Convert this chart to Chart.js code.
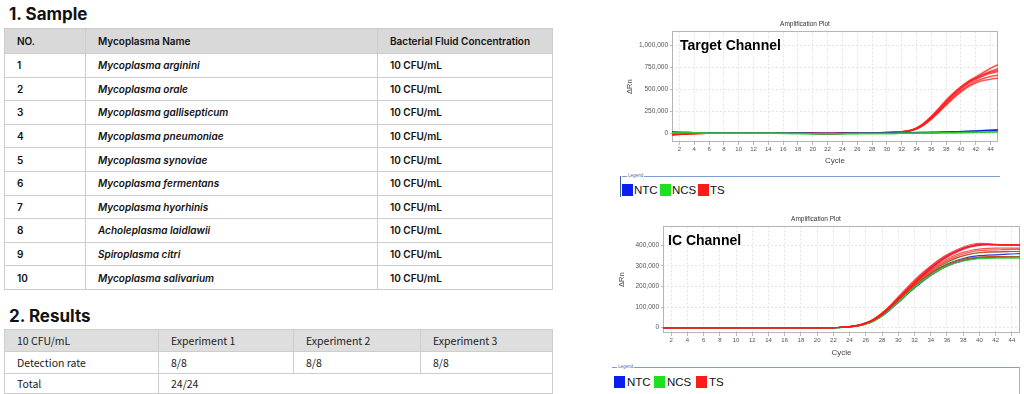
<!DOCTYPE html>
<html><head><meta charset="utf-8">
<script src="https://cdn.jsdelivr.net/npm/chart.js@4.4.1/dist/chart.umd.min.js"></script>
<style>
body{margin:0;width:1024px;height:394px;position:relative;overflow:hidden;background:#fff;}
.abs{position:absolute;}
.hd{position:absolute;margin:0;font-family:Inter,'Liberation Sans',sans-serif;font-weight:700;font-size:17px;color:#111;line-height:20px;}
table{position:absolute;border-collapse:collapse;table-layout:fixed;}
#t1{left:4px;top:28px;width:548px;font-family:Inter,sans-serif;font-weight:600;font-size:10px;color:#111;}
#t1 td{border:1px solid #cdcdcd;padding:0 0 0 12px;white-space:nowrap;overflow:hidden;}
#t1 tr.h td{background:#d9d9d9;height:24px;}
#t1 tr.r td{height:22.6px;}
#t1 td.it{font-style:italic;}
#t2{left:4px;top:329px;width:548px;font-family:'Noto Sans CJK KR','Noto Sans',sans-serif;font-size:10.5px;color:#222;}
#t2 td{border:1px solid #cdcdcd;padding:0 0 0 12px;white-space:nowrap;}
#t2 tr.h td{background:#dedede;}
.lg{position:absolute;font-family:'Liberation Sans',Arial,sans-serif;font-size:11.5px;color:#111;line-height:14px;}
.sw{position:absolute;}
.ch{position:absolute;font-family:'Liberation Sans',Arial,sans-serif;font-weight:700;font-size:14px;color:#000;line-height:16px;}
</style></head>
<body>
<div class="hd" style="left:9px;top:4px;">1. Sample</div>
<table id="t1"><colgroup><col style="width:81px"><col style="width:292px"><col style="width:175px"></colgroup><tbody id="t1b"></tbody></table>
<div class="hd" style="left:9px;top:306px;">2. Results</div>
<table id="t2"><colgroup><col style="width:154px"><col style="width:135px"><col style="width:127px"><col style="width:132px"></colgroup><tbody id="t2b"></tbody></table>

<canvas id="c1" class="abs" width="392" height="156" style="left:612px;top:14px;"></canvas>
<div class="ch" style="left:680px;top:37px;">Target Channel</div>
<div id="lg1"></div>

<canvas id="c2" class="abs" width="412" height="152" style="left:612px;top:208px;"></canvas>
<div class="ch" style="left:668px;top:232px;">IC Channel</div>
<div id="lg2"></div>

<script>
// ---------- table data ----------
const sampleHeaders = ['NO.', 'Mycoplasma Name', 'Bacterial Fluid Concentration'];
const sampleNo = ['1','2','3','4','5','6','7','8','9','10'];
const sampleNames = ['Mycoplasma arginini','Mycoplasma orale','Mycoplasma gallisepticum','Mycoplasma pneumoniae','Mycoplasma synoviae','Mycoplasma fermentans','Mycoplasma hyorhinis','Acholeplasma laidlawii','Spiroplasma citri','Mycoplasma salivarium'];
const sampleConc = ['10 CFU/mL','10 CFU/mL','10 CFU/mL','10 CFU/mL','10 CFU/mL','10 CFU/mL','10 CFU/mL','10 CFU/mL','10 CFU/mL','10 CFU/mL'];
const resultHeaders = ['10 CFU/mL','Experiment 1','Experiment 2','Experiment 3'];
const detectionRate = ['8/8','8/8','8/8'];
const totalRate = '24/24';

// ---------- chart data ----------
const cycles = [1,2,3,4,5,6,7,8,9,10,11,12,13,14,15,16,17,18,19,20,21,22,23,24,25,26,27,28,29,30,31,32,33,34,35,36,37,38,39,40,41,42,43,44,45];
const cycleTicks = [2,4,6,8,10,12,14,16,18,20,22,24,26,28,30,32,34,36,38,40,42,44];
const targetYTicks = [0,250000,500000,750000,1000000];
const icYTicks = [0,100000,200000,300000,400000];
const legendNames = ['NTC','NCS','TS'];

// Target channel (ΔRn, thousands)
const tgtTS1 = [-18,-12,-7,-4,-2,-1,0,0,0,0, 0,0,0,1,2,3,4,5,3,-1, -3,-3,-2,-1,0,1,2,3,5,8, 12,18,30,60,115,192,282,378,460,532, 594,642,692,740,782];
const tgtTS2 = [-14,-10,-6,-3,-1,0,0,0,0,0, 0,0,1,1,2,3,3,4,2,-1, -2,-3,-2,-1,0,1,2,3,4,7, 10,16,28,56,108,182,268,358,442,518, 580,628,670,706,736];
const tgtTS3 = [-20,-14,-8,-4,-2,-1,0,0,0,0, 0,0,0,1,1,2,3,4,3,0, -2,-3,-3,-1,0,1,2,3,5,8, 11,17,29,58,112,186,272,362,446,520, 582,626,665,695,716];
const tgtTS4 = [-10,-7,-4,-2,-1,0,0,0,0,0, 0,1,1,2,2,3,4,4,2,-1, -2,-2,-2,-1,0,1,1,2,4,6, 9,15,26,52,102,172,256,345,430,505, 568,615,652,682,702];
const tgtTS5 = [-16,-11,-6,-3,-1,0,0,0,0,0, 0,0,1,1,2,2,3,4,2,-1, -2,-3,-2,-1,0,1,2,3,4,7, 10,14,25,50,98,166,246,330,412,486, 546,592,624,646,662];
const tgtTS6 = [-12,-8,-5,-2,-1,0,0,0,0,0, 0,0,0,1,2,3,3,4,3,0, -2,-2,-2,-1,0,0,1,2,4,6, 9,13,24,48,95,160,238,320,400,470, 530,572,600,616,626];
const tgtNTC1 = [14,11,8,5,3,2,1,1,0,0, 0,0,0,0,0,0,0,-1,-1,-2, -2,-2,-2,-1,0,0,1,1,2,3, 4,5,6,7,8,10,12,14,16,19, 22,26,30,35,40];
const tgtNTC2 = [10,9,7,5,3,2,1,0,0,0, 0,0,0,0,0,0,0,0,-1,-2, -2,-3,-2,-2,-1,0,0,1,1,2, 3,4,5,6,7,8,10,12,14,17, 20,23,27,31,35];
const tgtNCS1 = [4,6,7,5,3,1,0,0,0,0, 0,0,0,0,-1,-2,-3,-4,-5,-6, -6,-6,-6,-5,-5,-5,-4,-4,-3,-3, -2,-1,0,1,2,3,4,5,6,8, 9,11,13,16,19];
const tgtNCS2 = [2,4,5,4,2,1,0,0,0,0, 0,0,0,0,-1,-1,-2,-3,-4,-5, -5,-5,-5,-5,-4,-4,-4,-3,-3,-2, -2,-1,0,0,1,2,3,4,5,6, 8,9,11,13,15];

// IC channel (ΔRn, thousands)
const icTS1 = [0,0,0,0,0,0,0,0,0,0, 0,0,0,0,0,0,0,0,0,0, 0,0.5,2,5,11,22,40,68,102,142, 182,222,258,292,322,348,368,386,398,406, 406,404,403,402,402];
const icTS2 = [0,0,0,0,0,0,0,0,0,0, 0,0,0,0,0,0,0,0,0,0, 0,0.5,2,5,11,23,42,70,105,146, 186,226,262,296,326,350,370,386,396,402, 403,402,402,402,402];
const icTS3 = [0,0,0,0,0,0,0,0,0,0, 0,0,0,0,0,0,0,0,0,0, 0,0.5,2,6,12,24,43,72,108,150, 192,232,268,300,330,355,375,392,404,410, 408,405,403,402,402];
const icTS4 = [0,0,0,0,0,0,0,0,0,0, 0,0,0,0,0,0,0,0,0,0, 0,0.5,2,5,11,22,40,67,100,139, 178,216,250,282,310,334,352,366,376,382, 385,386,386,386,386];
const icTS5 = [0,0,0,0,0,0,0,0,0,0, 0,0,0,0,0,0,0,0,0,0, 0,0.5,2,5,11,22,40,67,101,140, 178,215,248,278,304,326,344,358,368,374, 377,378,379,380,380];
const icTS6 = [0,0,0,0,0,0,0,0,0,0, 0,0,0,0,0,0,0,0,0,0, 0,0.5,2,5,10,21,38,65,98,136, 174,210,243,272,298,320,337,350,359,364, 367,368,369,370,370];
const icTS7 = [0,0,0,0,0,0,0,0,0,0, 0,0,0,0,0,0,0,0,0,0, 0,0.5,2,5,10,21,38,64,97,134, 170,205,236,263,287,306,321,332,339,343, 345,345,345,344,344];
const icTS8 = [0,0,0,0,0,0,0,0,0,0, 0,0,0,0,0,0,0,0,0,0, 0,0.5,2,5,10,20,37,63,97,136, 176,216,252,286,316,342,362,380,392,400, 403,403,402,402,402];
const icNTC1 = [0,0,0,0,0,0,0,0,0,0, 0,0,0,0,0,0,0,0,0,0, 0,0.5,2,5,11,22,40,67,101,140, 180,219,255,289,319,345,366,384,396,403, 404,403,402,402,402];
const icNTC2 = [0,0,0,0,0,0,0,0,0,0, 0,0,0,0,0,0,0,0,0,0, 0,0.3,1.5,4,9,18,34,58,90,126, 163,198,232,262,288,308,324,336,345,350, 352,354,356,358,360];
const icNTC3 = [0,0,0,0,0,0,0,0,0,0, 0,0,0,0,0,0,0,0,0,0, 0,0.3,1.5,4,9,18,33,56,87,122, 158,192,224,253,278,298,314,326,334,339, 341,342,343,344,345];
const icNCS1 = [0,0,0,0,0,0,0,0,0,0, 0,0,0,0,0,0,0,0,0,0, 0,0.3,1.5,4,9,19,35,60,93,130, 168,204,238,268,294,316,334,348,358,364, 367,368,369,370,370];
const icNCS2 = [0,0,0,0,0,0,0,0,0,0, 0,0,0,0,0,0,0,0,0,0, 0,0.3,1.5,4,9,18,34,58,90,127, 164,199,231,260,285,305,320,331,338,342, 344,345,345,345,345];
const icNCS3 = [0,0,0,0,0,0,0,0,0,0, 0,0,0,0,0,0,0,0,0,0, 0,0.3,1.5,4,9,18,33,57,88,124, 160,194,226,254,278,298,313,324,331,335, 337,338,338,338,338];

// ---------- colours ----------
const COL = {NTC:'#0a1ef0', NCS:'#1ee01e', TS:'#ff1a1a'};
const LINE = {NTC:'rgba(25,35,215,0.9)', NCS:'rgba(40,205,40,0.9)', TS:'rgba(255,25,25,0.75)'};

// ---------- tables ----------
(function(){
  const b1 = document.getElementById('t1b');
  let h = '<tr class="h">' + sampleHeaders.map(t=>'<td>'+t+'</td>').join('') + '</tr>';
  for (let i=0;i<sampleNo.length;i++) {
    h += '<tr class="r"><td>'+sampleNo[i]+'</td><td class="it">'+sampleNames[i]+'</td><td>'+sampleConc[i]+'</td></tr>';
  }
  b1.innerHTML = h;
  const b2 = document.getElementById('t2b');
  let g = '<tr class="h" style="height:22px">' + resultHeaders.map(t=>'<td>'+t+'</td>').join('') + '</tr>';
  g += '<tr style="height:22px"><td>Detection rate</td>' + detectionRate.map(t=>'<td>'+t+'</td>').join('') + '</tr>';
  g += '<tr style="height:20px"><td>Total</td><td colspan="3">'+totalRate+'</td></tr>';
  b2.innerHTML = g;
})();

// ---------- legends ----------
function buildLegend(id, box, items) {
  const el = document.getElementById(id);
  let html = '';
  html += '<div class="abs" style="left:'+box.lineL+'px;top:'+box.lineT+'px;width:'+box.lineW+'px;height:1px;background:#7f9ccc"></div>';
  html += '<div class="abs" style="left:'+(box.lineL+5)+'px;top:'+(box.lineT-3)+'px;font:4.5px Liberation Sans;color:#4a6fb0;background:#fff;padding:0 1px">Legend</div>';
  if (box.leftBar) html += '<div class="abs" style="left:'+box.leftBar.x+'px;top:'+box.lineT+'px;width:1px;height:'+box.leftBar.h+'px;background:#3b5ba5"></div>';
  if (box.rightBar) html += '<div class="abs" style="left:'+box.rightBar.x+'px;top:'+box.lineT+'px;width:1px;height:'+box.rightBar.h+'px;background:#9fb3d6"></div>';
  items.forEach((it,i)=>{
    const p = box.pos[i];
    html += '<div class="sw" style="left:'+p.s+'px;top:'+box.swT+'px;width:'+box.swW+'px;height:'+box.swH+'px;background:'+COL[it]+'"></div>';
    html += '<div class="lg" style="left:'+p.t+'px;top:'+box.txtT+'px">'+it+'</div>';
  });
  el.innerHTML = html;
}
buildLegend('lg1', {lineL:622,lineT:176,lineW:378,leftBar:{x:620,h:21},swT:184,swW:11,swH:12,txtT:183,
  pos:[{s:622,t:634},{s:660,t:672},{s:698,t:710}]}, legendNames);
buildLegend('lg2', {lineL:612,lineT:367,lineW:408,rightBar:{x:1019,h:27},swT:376,swW:11,swH:12,txtT:375,
  pos:[{s:614,t:627},{s:654,t:667},{s:696,t:709}]}, legendNames);

// ---------- charts ----------
Chart.defaults.font.family = "'Liberation Sans', Arial, sans-serif";
const framePlugin = {
  id:'frame',
  beforeDatasetsDraw(chart){
    const {ctx, chartArea:a} = chart;
    ctx.save(); ctx.strokeStyle = '#b5b5b5'; ctx.lineWidth = 1;
    ctx.strokeRect(Math.round(a.left)+0.5, Math.round(a.top)+0.5, Math.round(a.right-a.left)-1, Math.round(a.bottom-a.top)-1);
    ctx.restore();
  }
};
function fmt(v){ return Number(v).toLocaleString('en-US'); }

function makeChart(id, cfg) {
  const datasets = cfg.series.map(s => ({
    data: s.values.map((v,i)=>({x:cycles[i], y:v*1000})),
    borderColor: LINE[s.kind], borderWidth: cfg.lw, pointRadius:0, fill:false,
    cubicInterpolationMode:'monotone'
  }));
  return new Chart(document.getElementById(id), {
    type:'line',
    data:{datasets},
    options:{
      responsive:false, animation:false, devicePixelRatio:1,
      layout:{padding:{left:0,right:cfg.padR,top:0,bottom:0}},
      plugins:{
        legend:{display:false}, tooltip:{enabled:false},
        title:{display:true,text:'Amplification Plot',color:'#333',font:{size:6.5,weight:'normal'},padding:{top:cfg.titleTop,bottom:cfg.titleBot}}
      },
      scales:{
        x:{type:'linear',min:1,max:45,
          afterBuildTicks:sc=>{ sc.ticks = cycleTicks.map(v=>({value:v})); },
          afterFit:sc=>{ sc.height = cfg.xH; },
          ticks:{font:{size:6},color:'#555',padding:1,maxRotation:0,autoSkip:false},
          grid:{color:'#e4e4e4',tickLength:3,tickColor:'#bbb'},
          border:{display:false,dash:[2,2]},
          title:{display:true,text:'Cycle',font:{size:8},color:'#444',padding:{top:0,bottom:cfg.cycleBot}}
        },
        y:{type:'linear',min:cfg.yMin,max:cfg.yMax,
          afterBuildTicks:sc=>{ sc.ticks = cfg.yTicks.map(v=>({value:v})); },
          afterFit:sc=>{ sc.width = cfg.yW; },
          ticks:{font:{size:6.5},color:'#555',padding:2,callback:v=>fmt(v)},
          grid:{color:'#e4e4e4',tickLength:2,tickColor:'#bbb'},
          border:{display:false,dash:[2,2]},
          title:{display:true,text:'ΔRn',font:{size:7.5},color:'#444',padding:{top:cfg.rnTop,bottom:0}}
        }
      }
    },
    plugins:[framePlugin]
  });
}

makeChart('c1', {
  lw:1.5, padR:6, titleTop:6, titleBot:3.6, xH:28, cycleBot:4.6, yW:60, rnTop:13.5,
  yMin:-100000, yMax:1160000, yTicks:targetYTicks,
  series:[
    {kind:'NCS',values:tgtNCS1},{kind:'NCS',values:tgtNCS2},
    {kind:'NTC',values:tgtNTC1},{kind:'NTC',values:tgtNTC2},
    {kind:'TS',values:tgtTS1},{kind:'TS',values:tgtTS2},{kind:'TS',values:tgtTS3},
    {kind:'TS',values:tgtTS4},{kind:'TS',values:tgtTS5},{kind:'TS',values:tgtTS6}
  ]
});
makeChart('c2', {
  lw:1.2, padR:4, titleTop:7, titleBot:3.6, xH:27, cycleBot:2.6, yW:51, rnTop:5,
  yMin:-26000, yMax:492000, yTicks:icYTicks,
  series:[
    {kind:'TS',values:icTS1},{kind:'TS',values:icTS2},{kind:'TS',values:icTS3},{kind:'TS',values:icTS4},
    {kind:'TS',values:icTS5},{kind:'TS',values:icTS6},{kind:'TS',values:icTS7},{kind:'TS',values:icTS8},
    {kind:'NCS',values:icNCS1},{kind:'NCS',values:icNCS2},{kind:'NCS',values:icNCS3},
    {kind:'NTC',values:icNTC1},{kind:'NTC',values:icNTC2},{kind:'NTC',values:icNTC3}
  ]
});
</script>
</body></html>
